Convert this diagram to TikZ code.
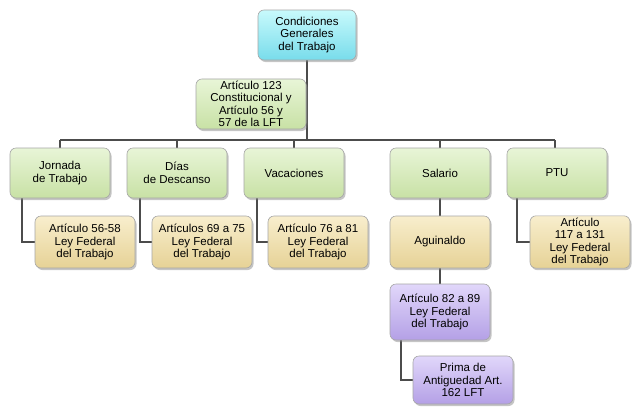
\documentclass[tikz,border=0pt]{standalone}
\usepackage{fontspec}
\setmainfont{Liberation Sans}
\usetikzlibrary{shadows}
\definecolor{cyT}{RGB}{200,250,252}
\definecolor{cyB}{RGB}{120,220,235}
\definecolor{grT}{RGB}{232,245,215}
\definecolor{grB}{RGB}{200,225,165}
\definecolor{tnT}{RGB}{248,238,205}
\definecolor{tnB}{RGB}{230,210,150}
\definecolor{puT}{RGB}{225,215,250}
\definecolor{puB}{RGB}{180,160,230}
\begin{document}
\begin{tikzpicture}[x=1pt,y=-1pt,
  box/.style={draw=black!35,line width=0.6pt,rounded corners=6pt,minimum width=100pt,align=center,font=\fontsize{11.5}{12.5}\selectfont,inner sep=2pt,
    drop shadow={shadow xshift=1.5pt,shadow yshift=-2pt,opacity=0.45}},
  cy/.style={box,top color=cyT,bottom color=cyB},
  gr/.style={box,top color=grT,bottom color=grB},
  tn/.style={box,top color=tnT,bottom color=tnB},
  pu/.style={box,top color=puT,bottom color=puB},
  ln/.style={line width=2.5pt,draw=black!70}]
\useasboundingbox (0,0) rectangle (640,418);
\fill[white] (0,0) rectangle (640,418);
\coordinate (h) at (307,140);
\coordinate (hl) at (60,140);
\coordinate (hr) at (555,140);
\draw[ln] (307,35) -- (h);
\draw[ln] (hl) -- (hr);
\draw[ln] (60,140) -- (60,173);
\draw[ln] (177,140) -- (177,173);
\draw[ln] (294,140) -- (294,173);
\draw[ln] (440,140) -- (440,173);
\draw[ln] (555,140) -- (555,173);
\draw[ln] (22,173) |- (85,242);
\draw[ln] (140,173) |- (200,242);
\draw[ln] (257,173) |- (318,242);
\draw[ln] (517,173) |- (580,242);
\draw[ln] (440,173) -- (440,312);
\draw[ln] (401,312) |- (463,380);
\node[cy,minimum width=98pt,minimum height=50pt] (root) at (307,35) {Condiciones\\Generales\\del Trabajo};
\node[gr,minimum width=110pt,minimum height=50pt] (a123) at (251,104) {Artículo 123\\Constitucional y\\Artículo 56 y\\57 de la LFT};
\node[gr,minimum height=50pt] (jor) at (60,173) {Jornada\\de Trabajo};
\node[gr,minimum height=50pt] (dias) at (177,173) {Días\\de Descanso};
\node[gr,minimum height=50pt] (vac) at (294,173) {Vacaciones};
\node[gr,minimum height=50pt] (sal) at (440,173) {Salario};
\node[gr,minimum height=50pt] (ptu) at (557,173) {PTU};
\node[tn,minimum height=52pt] (a1) at (85,242) {Artículo 56-58\\Ley Federal\\del Trabajo};
\node[tn,minimum height=52pt] (a2) at (202,242) {Artículos 69 a 75\\Ley Federal\\del Trabajo};
\node[tn,minimum height=52pt] (a3) at (318,242) {Artículo 76 a 81\\Ley Federal\\del Trabajo};
\node[tn,minimum height=52pt] (ag) at (440,242) {Aguinaldo};
\node[tn,minimum height=52pt] (a5) at (580,242) {Artículo\\117 a 131\\Ley Federal\\del Trabajo};
\node[pu,minimum height=56pt] (a82) at (440,312) {Artículo 82 a 89\\Ley Federal\\del Trabajo};
\node[pu,minimum height=48pt] (pr) at (463,380) {Prima de\\Antiguedad Art.\\162 LFT};
\end{tikzpicture}
\end{document}
